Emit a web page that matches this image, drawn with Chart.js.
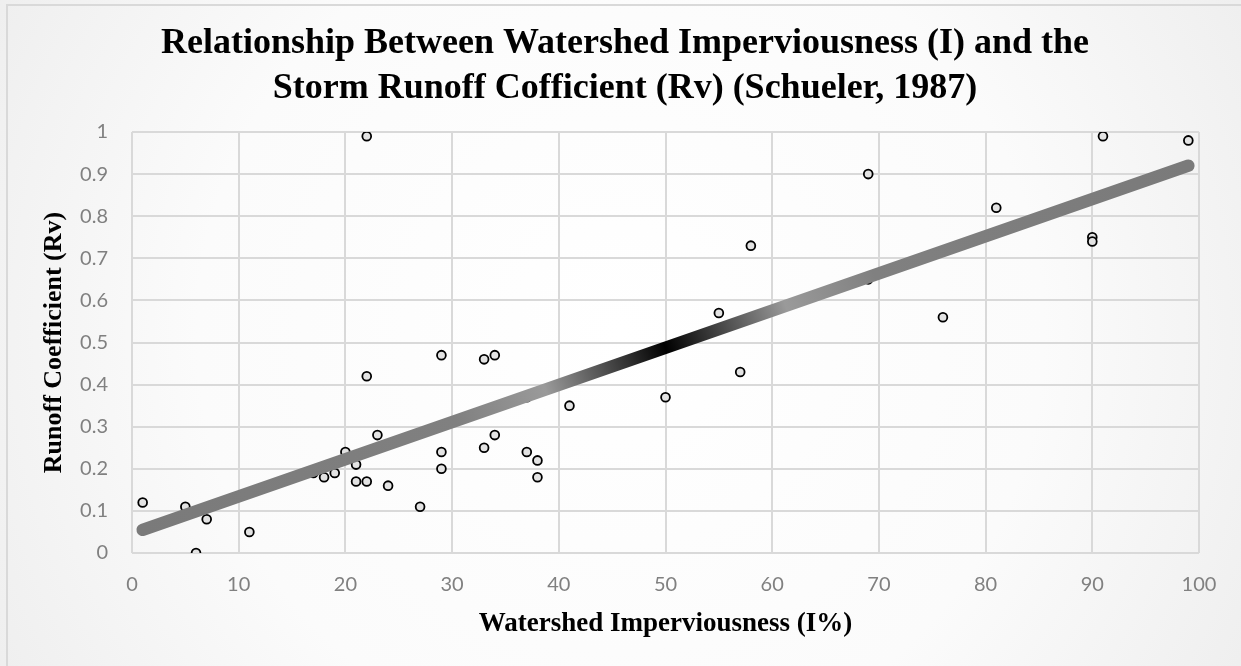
<!DOCTYPE html>
<html>
<head>
<meta charset="utf-8">
<script src="https://cdn.jsdelivr.net/npm/chart.js@4.4.1/dist/chart.umd.min.js"></script>
<style>
  html, body { margin: 0; padding: 0; background: #ffffff; }
  #wrap { width: 1241px; height: 666px; }
</style>
</head>
<body>
<div id="wrap"><canvas id="c" width="1241" height="666"></canvas></div>
<script>
// ---- data ----
const imperviousness = [1, 5, 6, 7, 11, 17, 18, 19, 20, 21, 21, 22, 22, 22, 23, 24, 27, 29, 29, 29, 33, 33, 34, 34, 37, 37, 38, 38, 41, 50, 55, 57, 58, 69, 69, 76, 81, 90, 90, 91, 99];
const runoffCoeff    = [0.12, 0.11, 0, 0.08, 0.05, 0.19, 0.18, 0.19, 0.24, 0.21, 0.17, 0.17, 0.42, 0.99, 0.28, 0.16, 0.11, 0.47, 0.24, 0.20, 0.46, 0.25, 0.47, 0.28, 0.37, 0.24, 0.22, 0.18, 0.35, 0.37, 0.57, 0.43, 0.73, 0.90, 0.65, 0.56, 0.82, 0.75, 0.74, 0.99, 0.98];
const trendX = [1, 99];
const trendY = [0.055, 0.92];
const xTicks = [0, 10, 20, 30, 40, 50, 60, 70, 80, 90, 100];
const yTicks = [0, 0.1, 0.2, 0.3, 0.4, 0.5, 0.6, 0.7, 0.8, 0.9, 1];
const titleLines = ['Relationship Between Watershed Imperviousness (I) and the', 'Storm Runoff Cofficient (Rv) (Schueler, 1987)'];
const xTitle = 'Watershed Imperviousness (I%)';
const yTitle = 'Runoff Coefficient (Rv)';

const scatterData = imperviousness.map((x, i) => ({ x: x, y: runoffCoeff[i] }));
const trendData = trendX.map((x, i) => ({ x: x, y: trendY[i] }));

const bgPlugin = {
  id: 'bg',
  afterLayout(chart) {
    // centre the title on the whole chart frame, like the reference
    if (chart.titleBlock) {
      chart.titleBlock.left = 7;
      chart.titleBlock.right = 1243;
    }
  },
  beforeDraw(chart) {
    const ctx = chart.ctx;
    const w = chart.width, h = chart.height;
    ctx.save();
    const g = ctx.createRadialGradient(w * 0.5, h * 0.5, 0, w * 0.5, h * 0.5, w * 0.62);
    g.addColorStop(0, '#ffffff');
    g.addColorStop(0.55, '#fbfbfb');
    g.addColorStop(1, '#ececec');
    ctx.fillStyle = g;
    ctx.fillRect(0, 0, w, h);
    ctx.strokeStyle = '#d9d9d9';
    ctx.lineWidth = 2;
    ctx.beginPath();
    ctx.moveTo(7, h + 5);
    ctx.lineTo(7, 5);
    ctx.lineTo(w + 5, 5);
    ctx.stroke();
    ctx.restore();
  }
};

function trendGradient(context) {
  const chart = context.chart;
  const area = chart.chartArea;
  if (!area) return '#7f7f7f';
  const xs = chart.scales.x, ys = chart.scales.y;
  const x0 = xs.getPixelForValue(trendX[0]), x1 = xs.getPixelForValue(trendX[1]);
  const y0 = ys.getPixelForValue(trendY[0]), y1 = ys.getPixelForValue(trendY[1]);
  const g = chart.ctx.createLinearGradient(x0, y0, x1, y1);
  g.addColorStop(0, '#7a7a7a');
  g.addColorStop(0.30, '#808080');
  g.addColorStop(0.385, '#9a9a9a');
  g.addColorStop(0.5, '#000000');
  g.addColorStop(0.615, '#9a9a9a');
  g.addColorStop(0.70, '#808080');
  g.addColorStop(1, '#7a7a7a');
  return g;
}

new Chart(document.getElementById('c'), {
  type: 'scatter',
  data: {
    datasets: [
      {
        type: 'line',
        label: 'Trend',
        data: trendData,
        borderColor: trendGradient,
        borderWidth: 12.5,
        borderCapStyle: 'round',
        pointRadius: 0,
        fill: false,
        order: 0
      },
      {
        label: 'Rv',
        data: scatterData,
        pointRadius: 4.4,
        pointBorderWidth: 1.8,
        pointBackgroundColor: '#e3e3e3',
        pointBorderColor: '#000000',
        backgroundColor: '#e3e3e3',
        borderColor: '#000000',
        order: 1
      }
    ]
  },
  options: {
    responsive: false,
    devicePixelRatio: 1,
    animation: false,
    layout: { padding: { left: 7, right: 42, top: 0, bottom: 0 } },
    plugins: {
      legend: { display: false },
      tooltip: { enabled: false },
      title: {
        display: true,
        text: titleLines,
        color: '#000000',
        font: { family: '"Liberation Serif", "Times New Roman", serif', size: 36, weight: 'bold', lineHeight: 1.25 },
        padding: { top: 21, bottom: 21 }
      }
    },
    scales: {
      x: {
        type: 'linear',
        min: xTicks[0],
        max: xTicks[xTicks.length - 1],
        afterBuildTicks(scale) { scale.ticks = xTicks.map(v => ({ value: v })); },
        afterFit(scale) { scale.height = 113; },
        grid: { color: '#d9d9d9', lineWidth: 2, drawTicks: false },
        border: { display: false },
        ticks: {
          padding: 20,
          color: '#808080',
          font: { family: 'Lato, "Open Sans", sans-serif', size: 20 },
          callback: (v) => String(v)
        },
        title: {
          display: true,
          text: xTitle,
          color: '#000000',
          font: { family: '"Liberation Serif", "Times New Roman", serif', size: 27, weight: 'bold', lineHeight: 1.2 },
          padding: { top: 0, bottom: 26 }
        }
      },
      y: {
        type: 'linear',
        min: yTicks[0],
        max: yTicks[yTicks.length - 1],
        afterBuildTicks(scale) { scale.ticks = yTicks.map(v => ({ value: v })); },
        afterFit(scale) { scale.width = 125; },
        grid: { color: '#d9d9d9', lineWidth: 2, drawTicks: false },
        border: { display: false },
        ticks: {
          padding: 24,
          color: '#808080',
          font: { family: 'Lato, "Open Sans", sans-serif', size: 20 },
          callback: (v) => String(Math.round(v * 10) / 10)
        },
        title: {
          display: true,
          text: yTitle,
          color: '#000000',
          font: { family: '"Liberation Serif", "Times New Roman", serif', size: 26, weight: 'bold', lineHeight: 1.2 },
          padding: { top: 32, bottom: 0 }
        }
      }
    }
  },
  plugins: [bgPlugin]
});
</script>
</body>
</html>
